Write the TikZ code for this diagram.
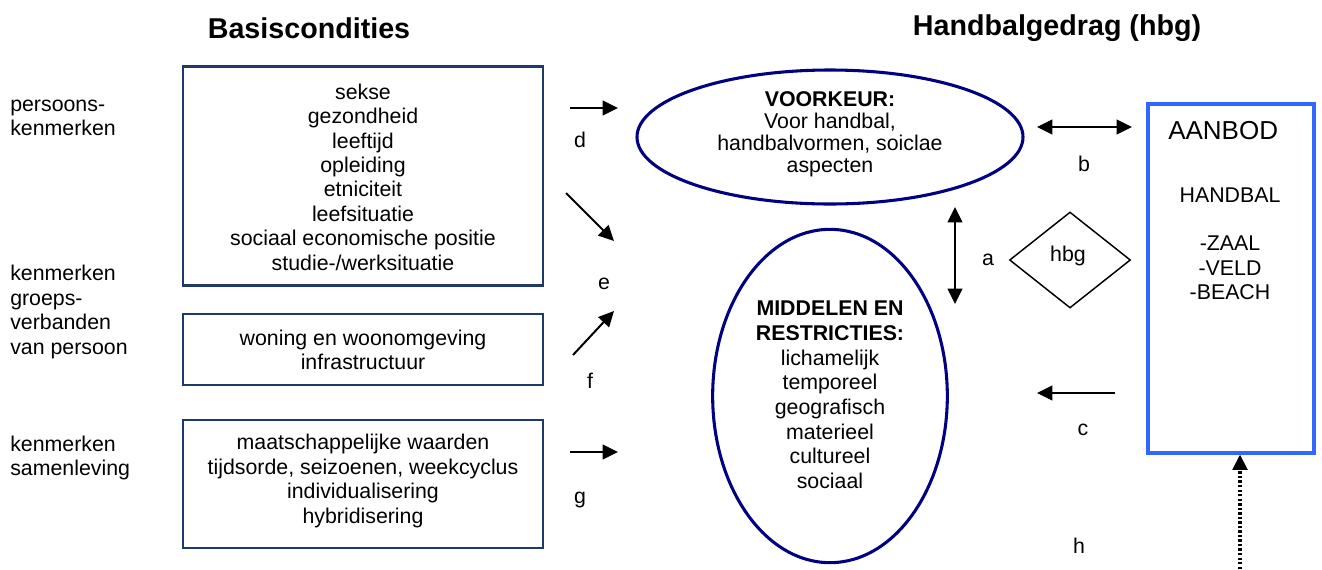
\documentclass[tikz,border=0pt]{standalone}
\usepackage{fontspec}
\setmainfont{Liberation Sans}
\usetikzlibrary{shapes.geometric,arrows.meta}
\definecolor{boxblue}{HTML}{1F3A68}
\definecolor{ellblue}{HTML}{000080}
\definecolor{aanblue}{HTML}{3366FF}
\tikzset{
  txt/.style={font=\fontsize{16}{18.3}\selectfont, align=center, inner sep=0pt},
  lefttxt/.style={font=\fontsize{16}{18.3}\selectfont, align=left, anchor=west, inner sep=0pt},
  title/.style={font=\fontsize{21.5}{24}\selectfont\bfseries, inner sep=0pt},
  condbox/.style={draw=boxblue, line width=2.2pt, rectangle, inner sep=0pt},
  ellbox/.style={draw=ellblue, line width=2.3pt, ellipse, inner sep=0pt, align=center},
  tip/.style={Triangle[length=11.5pt,width=11pt]},
  arr/.style={line width=1.5pt, -{Triangle[length=11.5pt,width=11pt]}},
  darr/.style={line width=1.5pt, {Triangle[length=11.5pt,width=11pt]}-{Triangle[length=11.5pt,width=11pt]}},
  lbl/.style={font=\fontsize{16}{18.3}\selectfont, inner sep=0pt},
}
\begin{document}
\begin{tikzpicture}[x=0.75pt,y=-0.75pt]
\useasboundingbox (0,0) rectangle (1322,569);

% titles
\node[title] (t1) at (309,28) {Basiscondities};
\node[title] (t2) at (1057,28) {Handbalgedrag (hbg)};

% left labels
\node[lefttxt] (l1) at (10,118) {persoons-\\kenmerken};
\node[lefttxt] (l2) at (10,312) {kenmerken\\groeps-\\verbanden\\van persoon};
\node[lefttxt] (l3) at (10,458) {kenmerken\\samenleving};

% condition boxes
\node[condbox, minimum width=270pt, minimum height=164pt] (b1) at (363,176) {};
\node[txt] (b1t) at (363,177) {sekse\\gezondheid\\leeftijd\\opleiding\\etniciteit\\leefsituatie\\sociaal economische positie\\studie-/werksituatie};
\node[condbox, minimum width=270pt, minimum height=53.25pt] (b2) at (363,349.5) {};
\node[txt] (b2t) at (363,350) {woning en woonomgeving\\infrastructuur};
\node[condbox, minimum width=270pt, minimum height=96pt] (b3) at (363,484) {};
\node[txt] (b3t) at (363,481) {maatschappelijke waarden\\tijdsorde, seizoenen, weekcyclus\\individualisering\\hybridisering};

% ellipses
\node[ellbox, minimum width=289.5pt, minimum height=100.5pt] (e1) at (830,137) {};
\node[txt, font=\fontsize{16}{16.5}\selectfont] (e1t) at (830,134) {\textbf{VOORKEUR:}\\Voor handbal,\\handbalvormen, soiclae\\aspecten};
\node[ellbox, minimum width=176pt, minimum height=250pt] (e2) at (830,396) {};
\node[txt, font=\fontsize{16}{18.5}\selectfont] (e2t) at (830,395) {\textbf{MIDDELEN EN}\\\textbf{RESTRICTIES:}\\lichamelijk\\temporeel\\geografisch\\materieel\\cultureel\\sociaal};

% aanbod
\node[draw=aanblue, line width=2.3pt, rectangle, inner sep=0pt, minimum width=124.5pt, minimum height=261.75pt] (aan) at (1231,278.5) {};
\node[lbl, font=\fontsize{19.5}{22}\selectfont, anchor=west] (aant) at (1168,131) {AANBOD};
\node[txt] (hb) at (1230,195) {HANDBAL};
\node[txt] (zvb) at (1230,268) {-ZAAL\\-VELD\\-BEACH};

% diamond
\node[draw, diamond, line width=1.1pt, inner sep=0pt, minimum width=90.75pt, minimum height=72pt] (dia) at (1070,260) {};
\node[lbl] (hbg) at (1068,256) {hbg};

% coordinates
\coordinate (d1) at (570,108); \coordinate (d2) at (618,108);
\coordinate (e1s) at (566,193); \coordinate (e1e) at (614,241);
\coordinate (f1) at (573,355); \coordinate (f2) at (614,311);
\coordinate (g1) at (570,452); \coordinate (g2) at (618,452);
\coordinate (bL) at (1037,127); \coordinate (bR) at (1132,127);
\coordinate (aT) at (955,207); \coordinate (aB) at (955,304);
\coordinate (c1) at (1115,393); \coordinate (c2) at (1037,393);
\coordinate (h1) at (1240,569);

% connectors
\draw[arr] (d1) -- (d2);
\draw[arr] (e1s) -- (e1e);
\draw[arr] (f1) -- (f2);
\draw[arr] (g1) -- (g2);
\draw[darr] (bL) -- (bR);
\draw[darr] (aT) -- (aB);
\draw[arr] (c1) -- (c2);
\draw[line width=2.4pt, dash pattern=on 1.8pt off 1.6pt, -{Triangle[length=11.5pt,width=11pt]}] (h1) -- (h1 |- aan.south);

% connector labels
\node[lbl] (ld) at (580,140) {d};
\node[lbl] (le) at (604,284) {e};
\node[lbl] (lf) at (590,381) {f};
\node[lbl] (lg) at (580,500) {g};
\node[lbl] (lb) at (1084,164) {b};
\node[lbl] (la) at (988,260) {a};
\node[lbl] (lc) at (1083,430) {c};
\node[lbl] (lh) at (1079,546) {h};
\end{tikzpicture}
\end{document}
